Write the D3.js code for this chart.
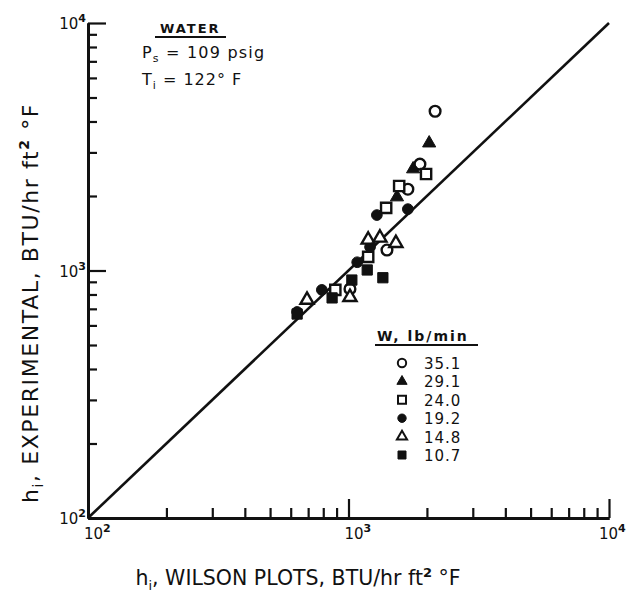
<!DOCTYPE html>
<html>
<head>
<meta charset="utf-8">
<script src="https://cdnjs.cloudflare.com/ajax/libs/d3/7.8.5/d3.min.js"></script>
<style>
  body { margin: 0; background: #fff; }
  text { font-family: "DejaVu Sans", "Liberation Sans", sans-serif; fill: #111; }
</style>
</head>
<body>
<svg id="chart"></svg>
<script>
// legend labels (W, lb/min) and marker kinds
const flowRates = ["35.1", "29.1", "24.0", "19.2", "14.8", "10.7"];
const markerKinds = ["circleOpen", "triangleFilled", "squareOpen", "circleFilled", "triangleOpen", "squareFilled"];

// h_i from Wilson plots (x) and experimental h_i (y), one pair of arrays per flow rate
const wilson351 = [2150, 1880, 1690, 1405, 1013];
const exper351  = [4400, 2690, 2130, 1210, 842];
const wilson291 = [2040, 1770, 1535];
const exper291  = [3270, 2570, 1980];
const wilson240 = [1985, 1565, 1395, 1190, 890];
const exper240  = [2455, 2195, 1790, 1135, 835];
const wilson192 = [1285, 1690, 1210, 1080, 790, 635];
const exper192  = [1675, 1770, 1245, 1080, 835, 680];
const wilson148 = [1190, 1320, 1520, 1013, 693];
const exper148  = [1330, 1355, 1290, 780, 760];
const wilson107 = [1180, 1355, 1030, 865, 635];
const exper107  = [1005, 935, 915, 775, 667];

const majorTicks = [100, 1000, 10000];
const tickExponents = ["2", "3", "4"];

const wilsonAll = [wilson351, wilson291, wilson240, wilson192, wilson148, wilson107];
const experAll = [exper351, exper291, exper240, exper192, exper148, exper107];

var local = {
    "svgwidth": 626,
    "svgheight": 594,
    "margin": {"top": 23, "bottom": 76, "left": 88, "right": 17}
};
var width = local.svgwidth - local.margin.left - local.margin.right;
var height = local.svgheight - local.margin.top - local.margin.bottom;

var svg = d3.select("#chart")
    .attr("width", local.svgwidth)
    .attr("height", local.svgheight);

var g = svg.append("g")
    .attr("transform", "translate(" + local.margin.left + "," + local.margin.top + ")");

//Scales
var xScale = d3.scaleLog().domain([100, 10000]).range([0, width]);
var yScale = d3.scaleLog().domain([100, 10000]).range([height, 0]);

// minor ticks 2..9 in each decade
var minorTicks = [];
[100, 1000].forEach(function(d){
    for (var k = 2; k <= 9; k++) minorTicks.push(d * k);
});

//Axis: minor ticks, then major ticks (both point inward)
g.append("g").attr("class", "xMinor")
    .attr("transform", "translate(0," + height + ")")
    .call(d3.axisBottom(xScale).tickValues(minorTicks).tickSizeInner(-10).tickSizeOuter(0).tickFormat(""));
g.append("g").attr("class", "xMajor")
    .attr("transform", "translate(0," + height + ")")
    .call(d3.axisBottom(xScale).tickValues(majorTicks).tickSizeInner(-19).tickSizeOuter(0).tickFormat(""));
g.append("g").attr("class", "yMinor")
    .call(d3.axisLeft(yScale).tickValues(minorTicks).tickSizeInner(-9).tickSizeOuter(0).tickFormat(""));
g.append("g").attr("class", "yMajor")
    .call(d3.axisLeft(yScale).tickValues(majorTicks).tickSizeInner(-18).tickSizeOuter(0).tickFormat(""));

g.selectAll(".domain").attr("stroke", "#111").attr("stroke-width", 3);
g.selectAll(".tick line").attr("stroke", "#111").attr("stroke-width", 2.2);

// tick labels as 10 with a superscript exponent
majorTicks.forEach(function(d, i){
    var xl = g.append("text")
        .attr("x", Math.min(xScale(d) - 4, width - 10))
        .attr("y", height + 21)
        .attr("font-size", 15);
    xl.append("tspan").text("10");
    xl.append("tspan").attr("dy", -7).attr("font-size", 11).attr("font-weight", "bold").text(tickExponents[i]);

    var yl = g.append("text")
        .attr("x", -2)
        .attr("y", yScale(d) + 6)
        .attr("text-anchor", "end")
        .attr("font-size", 15);
    yl.append("tspan").text("10");
    yl.append("tspan").attr("dy", -7).attr("font-size", 11).attr("font-weight", "bold").text(tickExponents[i]);
});

// line of perfect agreement
g.append("line")
    .attr("x1", xScale(100)).attr("y1", yScale(100))
    .attr("x2", xScale(10000)).attr("y2", yScale(10000))
    .attr("stroke", "#111").attr("stroke-width", 2.6);

//Markers
function markerPath(kind, big){
    var type = kind.indexOf("circle") === 0 ? d3.symbolCircle
        : kind.indexOf("triangle") === 0 ? d3.symbolTriangle : d3.symbolSquare;
    var size = type === d3.symbolCircle ? (big ? 90 : 55)
        : type === d3.symbolTriangle ? (big ? 75 : 45) : (big ? 105 : 64);
    return d3.symbol().type(type).size(size)();
}

wilsonAll.forEach(function(xs, s){
    var kind = markerKinds[s];
    var filled = kind.indexOf("Filled") > 0;
    g.selectAll(".pt" + s)
        .data(xs)
        .enter()
        .append("path")
        .attr("class", "pt" + s)
        .attr("d", markerPath(kind, true))
        .attr("transform", function(d, i){
            return "translate(" + xScale(d) + "," + yScale(experAll[s][i]) + ")";
        })
        .attr("fill", filled ? "#111" : "#fff")
        .attr("stroke", "#111")
        .attr("stroke-width", filled ? 1 : 2.4);
});

// legend
var leg = svg.append("g").attr("transform", "translate(377,341)");
leg.append("text").attr("x", 0).attr("y", 0).attr("font-size", 14).attr("font-weight", "bold")
    .attr("letter-spacing", 2).text("W, lb/min");
leg.append("line").attr("x1", -2).attr("x2", 101).attr("y1", 4).attr("y2", 4)
    .attr("stroke", "#111").attr("stroke-width", 2.2);
flowRates.forEach(function(lbl, i){
    var kind = markerKinds[i];
    var filled = kind.indexOf("Filled") > 0;
    var cy = 22 + i * 18.4;
    leg.append("path")
        .attr("d", markerPath(kind, false))
        .attr("transform", "translate(25," + cy + ")")
        .attr("fill", filled ? "#111" : "#fff")
        .attr("stroke", "#111")
        .attr("stroke-width", filled ? 1 : 2);
    leg.append("text").attr("x", 47).attr("y", cy + 6).attr("font-size", 15)
        .attr("letter-spacing", 1).text(lbl);
});

// conditions
var cond = svg.append("g");
cond.append("text").attr("x", 160).attr("y", 33).attr("font-size", 13).attr("font-weight", "bold")
    .attr("letter-spacing", 2).text("WATER");
cond.append("line").attr("x1", 155).attr("x2", 226).attr("y1", 37).attr("y2", 37)
    .attr("stroke", "#111").attr("stroke-width", 2.2);
var ps = cond.append("text").attr("x", 142).attr("y", 58).attr("font-size", 16).attr("letter-spacing", 1.2);
ps.append("tspan").text("P");
ps.append("tspan").attr("dy", 4).attr("font-size", 11).text("s");
ps.append("tspan").attr("dy", -4).text(" = 109 psig");
var ti = cond.append("text").attr("x", 142).attr("y", 85).attr("font-size", 16).attr("letter-spacing", 1);
ti.append("tspan").text("T");
ti.append("tspan").attr("dy", 4).attr("font-size", 11).text("i");
ti.append("tspan").attr("dy", -4).text(" = 122° F");

// axis titles
var xt = svg.append("text").attr("x", 298).attr("y", 585).attr("text-anchor", "middle").attr("font-size", 20.5);
xt.append("tspan").text("h");
xt.append("tspan").attr("dy", 5).attr("font-size", 13).text("i");
xt.append("tspan").attr("dy", -5).text(", WILSON  PLOTS, BTU/hr ft");
xt.append("tspan").attr("dy", -8).attr("font-size", 13).attr("font-weight", "bold").text("2");
xt.append("tspan").attr("dy", 8).text(" °F");

var yt = svg.append("text").attr("transform", "translate(38,303) rotate(-90)")
    .attr("text-anchor", "middle").attr("font-size", 22).attr("letter-spacing", 1.6);
yt.append("tspan").text("h");
yt.append("tspan").attr("dy", 5).attr("font-size", 14).text("i");
yt.append("tspan").attr("dy", -5).text(", EXPERIMENTAL, BTU/hr ft");
yt.append("tspan").attr("dy", -9).attr("font-size", 14).attr("font-weight", "bold").text("2");
yt.append("tspan").attr("dy", 9).text(" °F");
</script>
</body>
</html>
